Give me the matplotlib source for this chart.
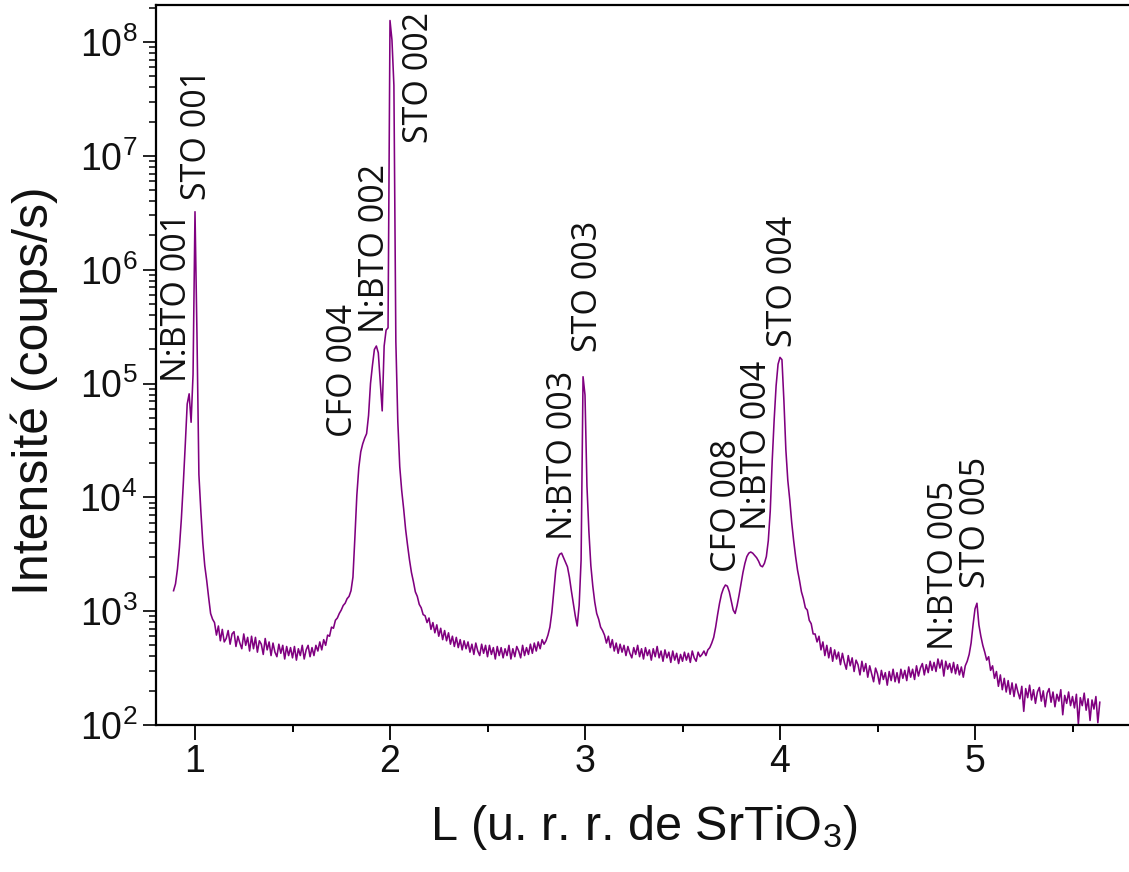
"""XRD L-scan along SrTiO3 (00L): N:BTO / CFO / STO reflections on a log scale."""

import matplotlib
matplotlib.use("Agg")

import matplotlib.pyplot as plt
import matplotlib.ticker as mticker
import numpy as np

# scan grid (L in r.l.u. of SrTiO3)
scan_start = 0.89
scan_step = 0.01

# log10 of the measured intensity (counts/s), one value per scan step
log_counts = [
    3.18,                                                          # 0.89
    3.24, 3.37, 3.56, 3.81, 4.12, 4.46, 4.82, 4.91, 4.66, 5.08,    # 0.90
    6.51, 5.44, 4.20, 3.88, 3.60, 3.40, 3.27, 3.12, 2.98, 2.93,    # 1.00
    2.90, 2.79, 2.87, 2.74, 2.84, 2.73, 2.76, 2.83, 2.71, 2.80,    # 1.10
    2.82, 2.69, 2.78, 2.72, 2.67, 2.80, 2.70, 2.77, 2.65, 2.78,    # 1.20
    2.67, 2.77, 2.64, 2.74, 2.71, 2.62, 2.76, 2.66, 2.73, 2.61,    # 1.30
    2.72, 2.64, 2.60, 2.71, 2.63, 2.70, 2.58, 2.69, 2.61, 2.68,    # 1.40
    2.59, 2.69, 2.57, 2.67, 2.61, 2.70, 2.58, 2.66, 2.70, 2.60,    # 1.50
    2.68, 2.61, 2.70, 2.65, 2.73, 2.66, 2.75, 2.70, 2.79, 2.78,    # 1.60
    2.86, 2.85, 2.92, 2.94, 2.98, 3.01, 3.05, 3.07, 3.11, 3.13,    # 1.70
    3.18, 3.30, 3.65, 4.02, 4.26, 4.40, 4.47, 4.52, 4.56, 4.72,    # 1.80
    5.00, 5.16, 5.30, 5.33, 5.27, 5.02, 4.76, 5.33, 5.47, 5.49,    # 1.90
    8.19, 8.02, 7.62, 5.37, 4.67, 4.27, 4.06, 3.90, 3.72, 3.58,    # 2.00
    3.45, 3.34, 3.26, 3.17, 3.13, 3.06, 3.03, 2.97, 2.96, 2.90,    # 2.10
    2.94, 2.84, 2.90, 2.81, 2.88, 2.78, 2.85, 2.75, 2.83, 2.74,    # 2.20
    2.81, 2.71, 2.78, 2.69, 2.77, 2.68, 2.75, 2.66, 2.74, 2.67,    # 2.30
    2.73, 2.64, 2.71, 2.62, 2.72, 2.65, 2.61, 2.71, 2.63, 2.70,    # 2.40
    2.60, 2.70, 2.62, 2.68, 2.58, 2.69, 2.61, 2.68, 2.59, 2.67,    # 2.50
    2.61, 2.70, 2.58, 2.67, 2.60, 2.69, 2.65, 2.59, 2.70, 2.61,    # 2.60
    2.68, 2.62, 2.71, 2.63, 2.72, 2.65, 2.73, 2.67, 2.75, 2.71,    # 2.70
    2.74, 2.79, 2.86, 2.99, 3.17, 3.36, 3.46, 3.50, 3.51, 3.47,    # 2.80
    3.43, 3.39, 3.30, 3.18, 3.07, 2.96, 2.87, 3.05, 3.45, 5.06,    # 2.90
    4.90, 4.10, 3.70, 3.40, 3.22, 3.08, 2.98, 2.93, 2.86, 2.83,    # 3.00
    2.79, 2.72, 2.78, 2.68, 2.75, 2.65, 2.72, 2.63, 2.71, 2.64,    # 3.10
    2.70, 2.61, 2.69, 2.63, 2.59, 2.68, 2.62, 2.70, 2.60, 2.67,    # 3.20
    2.58, 2.68, 2.61, 2.66, 2.57, 2.67, 2.60, 2.69, 2.59, 2.65,    # 3.30
    2.56, 2.66, 2.59, 2.64, 2.55, 2.65, 2.57, 2.63, 2.54, 2.62,    # 3.40
    2.56, 2.64, 2.57, 2.63, 2.55, 2.65, 2.59, 2.56, 2.64, 2.60,    # 3.50
    2.62, 2.65, 2.61, 2.66, 2.68, 2.72, 2.77, 2.86, 2.97, 3.07,    # 3.60
    3.15, 3.20, 3.23, 3.22, 3.17, 3.09, 3.01, 2.98, 3.05, 3.14,    # 3.70
    3.24, 3.34, 3.42, 3.48, 3.51, 3.52, 3.51, 3.49, 3.47, 3.44,    # 3.80
    3.40, 3.39, 3.42, 3.48, 3.62, 3.88, 4.32, 4.68, 4.98, 5.17,    # 3.90
    5.23, 5.21, 4.85, 4.42, 4.15, 3.98, 3.78, 3.62, 3.48, 3.36,    # 4.00
    3.27, 3.17, 3.11, 3.03, 3.01, 2.92, 2.89, 2.80, 2.80, 2.73,    # 4.10
    2.78, 2.66, 2.73, 2.61, 2.70, 2.59, 2.68, 2.56, 2.66, 2.58,    # 4.20
    2.64, 2.53, 2.63, 2.55, 2.49, 2.61, 2.52, 2.59, 2.47, 2.57,    # 4.30
    2.53, 2.44, 2.56, 2.47, 2.54, 2.42, 2.52, 2.45, 2.38, 2.50,    # 4.40
    2.45, 2.36, 2.48, 2.40, 2.46, 2.35, 2.47, 2.39, 2.49, 2.38,    # 4.50
    2.46, 2.37, 2.49, 2.41, 2.48, 2.39, 2.51, 2.42, 2.49, 2.40,    # 4.60
    2.52, 2.43, 2.50, 2.54, 2.44, 2.53, 2.46, 2.56, 2.48, 2.55,    # 4.70
    2.47, 2.58, 2.50, 2.57, 2.43, 2.56, 2.49, 2.54, 2.46, 2.55,    # 4.80
    2.45, 2.53, 2.44, 2.51, 2.42, 2.52, 2.56, 2.62, 2.72, 2.88,    # 4.90
    3.02, 3.07, 2.88, 2.78, 2.70, 2.64, 2.57, 2.60, 2.48, 2.52,    # 5.00
    2.41, 2.47, 2.34, 2.44, 2.31, 2.41, 2.29, 2.39, 2.27, 2.37,    # 5.10
    2.25, 2.36, 2.29, 2.23, 2.34, 2.12, 2.32, 2.24, 2.35, 2.22,    # 5.20
    2.31, 2.19, 2.29, 2.33, 2.21, 2.30, 2.16, 2.28, 2.32, 2.20,    # 5.30
    2.29, 2.16, 2.27, 2.21, 2.31, 2.09, 2.26, 2.19, 2.29, 2.17,    # 5.40
    2.25, 2.15, 2.27, 2.01, 2.24, 2.17, 2.28, 2.13, 2.23, 2.04,    # 5.50
    2.22, 2.14, 2.25, 2.02, 2.20,                                  # 5.60
]

# peak labels and where each (vertical) label starts
peak_names = ["N:BTO 001", "STO 001", "CFO 004", "N:BTO 002", "STO 002",
              "N:BTO 003", "STO 003", "CFO 008", "N:BTO 004", "STO 004",
              "N:BTO 005", "STO 005"]
label_l = [0.956, 1.054, 1.803, 1.967, 2.197,
           2.931, 3.064, 3.772, 3.926, 4.059,
           4.885, 5.049]
label_counts = [1.03e5, 4.1e6, 3.4e4, 2.79e5, 1.3e7,
                4.2e3, 1.9e5, 2.2e3, 5.2e3, 2.1e5,
                4.56e2, 1.6e3]

plt.rcParams["font.family"] = ["Liberation Sans", "DejaVu Sans"]
plt.rcParams["mathtext.default"] = "regular"

scan_l = scan_start + scan_step * np.arange(len(log_counts))
counts = 10.0 ** np.array(log_counts)

# ── figure ───────────────────────────────────────────────────────────
W, H = 1129, 872
fig = plt.figure(figsize=(W / 100, H / 100), dpi=100)
fig.patch.set_facecolor("white")
ax = fig.add_axes([156 / W, 147 / H, 975 / W, 720 / H])

ax.plot(scan_l, counts, color="#800080", linewidth=1.15)

ax.set_yscale("log")
ax.set_xlim(0.8, 5.8)
ax.set_ylim(100, 2.12e8)

ax.xaxis.set_major_locator(mticker.MultipleLocator(1))
ax.xaxis.set_minor_locator(mticker.MultipleLocator(0.5))
ax.yaxis.set_major_locator(mticker.LogLocator(base=10, numticks=12))
ax.yaxis.set_minor_locator(mticker.LogLocator(base=10, subs=np.arange(2, 10), numticks=12))
ax.yaxis.set_minor_formatter(mticker.NullFormatter())

ax.tick_params(axis="x", which="major", direction="out", length=11, width=1.4,
               labelsize=27, pad=3, colors="#111111")
ax.tick_params(axis="x", which="minor", direction="out", length=5, width=1.4)
ax.tick_params(axis="y", which="major", direction="out", length=9.5, width=1.3,
               labelsize=27, pad=4, colors="#111111")
ax.tick_params(axis="y", which="minor", direction="out", length=5, width=1.1)
ax.tick_params(top=False, right=False, which="both")

for side in ("left", "bottom", "top"):
    ax.spines[side].set_linewidth(1.6)
ax.spines["right"].set_visible(False)

ax.set_xlabel(r"L (u. r. r. de SrTiO$_3$)", fontsize=35, color="#111111")
ax.xaxis.set_label_coords(0.5, -0.108)
ax.set_ylabel("Intensité (coups/s)", fontsize=36, color="#111111")
ax.yaxis.set_label_coords(-0.1005, 0.465)

# peak annotations, written bottom-to-top
for name, l, c in zip(peak_names, label_l, label_counts):
    ax.text(l, c, name, rotation=90, rotation_mode="anchor",
            ha="left", va="baseline", fontsize=24.5, color="#111111",
            family=["Open Sans", "DejaVu Sans"])

fig.savefig("out.png", dpi=100, facecolor=fig.get_facecolor())
